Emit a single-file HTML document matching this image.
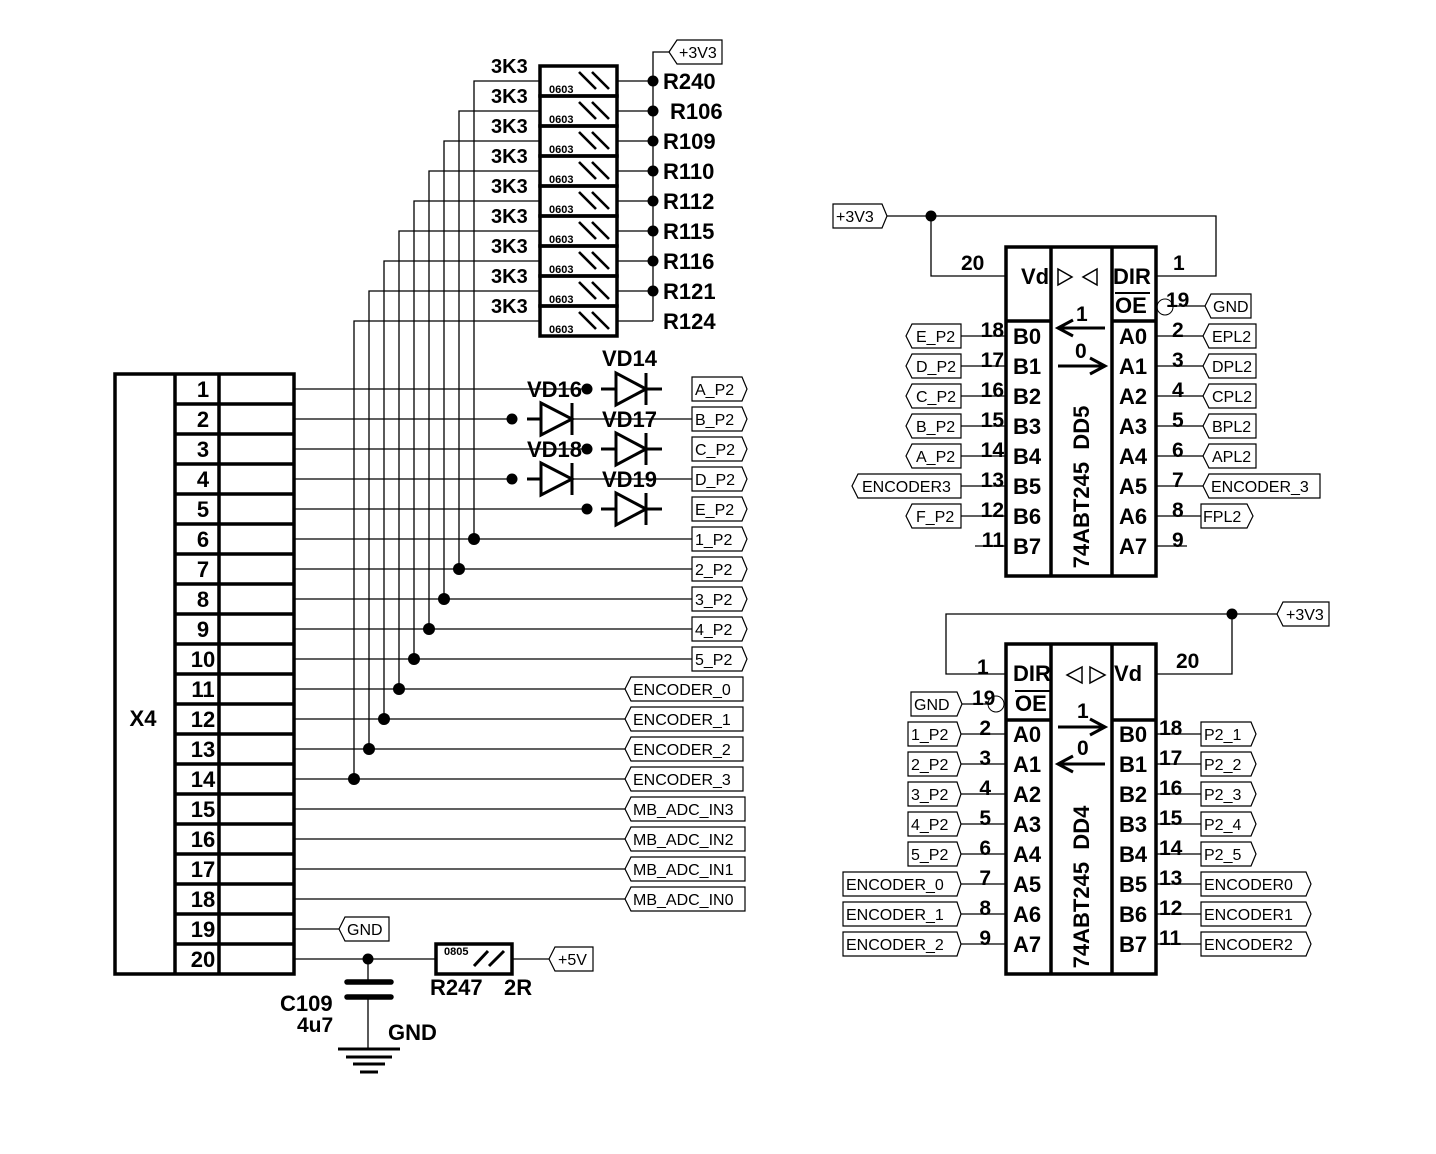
<!DOCTYPE html>
<html><head><meta charset="utf-8"><style>
html,body{margin:0;padding:0;background:#fff}
svg{display:block}
.w{stroke:#000;stroke-width:1.3;fill:none}
.t{stroke:#000;stroke-width:3.5;fill:none}
.d{stroke:#000;stroke-width:3;fill:none}
.g{stroke:#000;stroke-width:1.2;fill:#fff}
text{font-family:"Liberation Sans",Arial,sans-serif;fill:#000}
.b{font-weight:bold;font-size:22px}
.p{font-weight:bold;font-size:21px}
.n{font-size:16px}
.s{font-weight:bold;font-size:11px}
</style></head><body>
<svg width="1436" height="1154" viewBox="0 0 1436 1154" xmlns="http://www.w3.org/2000/svg">
<rect width="1436" height="1154" fill="#fff"/>

<!-- Resistor array -->
<g class="t">
<rect x="540" y="66" width="77" height="30"/><rect x="540" y="96" width="77" height="30"/><rect x="540" y="126" width="77" height="30"/>
<rect x="540" y="156" width="77" height="30"/><rect x="540" y="186" width="77" height="30"/><rect x="540" y="216" width="77" height="30"/>
<rect x="540" y="246" width="77" height="30"/><rect x="540" y="276" width="77" height="30"/><rect x="540" y="306" width="77" height="30"/>
</g>
<g stroke="#000" stroke-width="2.6">
<path d="M579 72L596 89M592 72L609 89"/><path d="M579 102L596 119M592 102L609 119"/><path d="M579 132L596 149M592 132L609 149"/>
<path d="M579 162L596 179M592 162L609 179"/><path d="M579 192L596 209M592 192L609 209"/><path d="M579 222L596 239M592 222L609 239"/>
<path d="M579 252L596 269M592 252L609 269"/><path d="M579 282L596 299M592 282L609 299"/><path d="M579 312L596 329M592 312L609 329"/>
</g>
<g class="s">
<text x="549" y="93">0603</text><text x="549" y="123">0603</text><text x="549" y="153">0603</text>
<text x="549" y="183">0603</text><text x="549" y="213">0603</text><text x="549" y="243">0603</text>
<text x="549" y="273">0603</text><text x="549" y="303">0603</text><text x="549" y="333">0603</text>
</g>
<g class="w">
<path d="M617 81H653M617 111H653M617 141H653M617 171H653M617 201H653M617 231H653M617 261H653M617 291H653M617 321H653"/>
<path d="M653 321V52H669"/>
<path d="M540 81H474V539M540 111H459V569M540 141H444V599M540 171H429V629M540 201H414V659M540 231H399V689M540 261H384V719M540 291H369V749M540 321H354V779"/>
</g>
<g fill="#000">
<circle cx="653" cy="81" r="5.5"/><circle cx="653" cy="111" r="5.5"/><circle cx="653" cy="141" r="5.5"/><circle cx="653" cy="171" r="5.5"/>
<circle cx="653" cy="201" r="5.5"/><circle cx="653" cy="231" r="5.5"/><circle cx="653" cy="261" r="5.5"/><circle cx="653" cy="291" r="5.5"/>
</g>
<polygon class="g" points="669,52 677,40 722,40 722,64 677,64"/>
<text class="n" x="679" y="58">+3V3</text>
<g class="b">
<text x="663" y="89">R240</text><text x="670" y="119">R106</text><text x="663" y="149">R109</text><text x="663" y="179">R110</text>
<text x="663" y="209">R112</text><text x="663" y="239">R115</text><text x="663" y="269">R116</text><text x="663" y="299">R121</text><text x="663" y="329">R124</text>
</g>
<g class="b" style="font-size:20px">
<text x="491" y="73">3K3</text><text x="491" y="103">3K3</text><text x="491" y="133">3K3</text><text x="491" y="163">3K3</text>
<text x="491" y="193">3K3</text><text x="491" y="223">3K3</text><text x="491" y="253">3K3</text><text x="491" y="283">3K3</text><text x="491" y="313">3K3</text>
</g>

<!-- X4 connector -->
<rect class="t" x="115" y="374" width="179" height="600"/>
<path class="t" d="M175 374V974M219 374V974"/>
<path class="t" d="M175 404H294M175 434H294M175 464H294M175 494H294M175 524H294M175 554H294M175 584H294M175 614H294M175 644H294M175 674H294M175 704H294M175 734H294M175 764H294M175 794H294M175 824H294M175 854H294M175 884H294M175 914H294M175 944H294"/>
<g class="b" text-anchor="middle">
<text x="203" y="397">1</text><text x="203" y="427">2</text><text x="203" y="457">3</text><text x="203" y="487">4</text><text x="203" y="517">5</text>
<text x="203" y="547">6</text><text x="203" y="577">7</text><text x="203" y="607">8</text><text x="203" y="637">9</text><text x="203" y="667">10</text>
<text x="203" y="697">11</text><text x="203" y="727">12</text><text x="203" y="757">13</text><text x="203" y="787">14</text><text x="203" y="817">15</text>
<text x="203" y="847">16</text><text x="203" y="877">17</text><text x="203" y="907">18</text><text x="203" y="937">19</text><text x="203" y="967">20</text>
<text x="143" y="726">X4</text>
</g>

<!-- X4 wires -->
<g class="w">
<path d="M294 389H587M294 419H512M294 449H587M294 479H512M294 509H587"/>
<path d="M294 539H692M294 569H692M294 599H692M294 629H692M294 659H692"/>
<path d="M294 689H625M294 719H625M294 749H625M294 779H625M294 809H625M294 839H625M294 869H625M294 899H625"/>
<path d="M294 929H339M294 959H436M512 959H549"/>
</g>
<g fill="#000">
<circle cx="474" cy="539" r="6"/><circle cx="459" cy="569" r="6"/><circle cx="444" cy="599" r="6"/><circle cx="429" cy="629" r="6"/>
<circle cx="414" cy="659" r="6"/><circle cx="399" cy="689" r="6"/><circle cx="384" cy="719" r="6"/><circle cx="369" cy="749" r="6"/><circle cx="354" cy="779" r="6"/>
<circle cx="587" cy="389" r="5.5"/><circle cx="512" cy="419" r="5.5"/><circle cx="587" cy="449" r="5.5"/><circle cx="512" cy="479" r="5.5"/><circle cx="587" cy="509" r="5.5"/>
<circle cx="368" cy="959" r="5.5"/>
</g>

<!-- Diodes -->
<g class="d">
<path d="M601 389H616M646 389H662M646 373V405"/><polygon points="616,373 616,405 646,389"/>
<path d="M601 449H616M646 449H662M646 433V465"/><polygon points="616,433 616,465 646,449"/>
<path d="M601 509H616M646 509H662M646 493V525"/><polygon points="616,493 616,525 646,509"/>
<path d="M527 419H541M572 403V435"/><polygon points="541,403 541,435 572,419"/>
<path d="M527 479H541M572 463V495"/><polygon points="541,463 541,495 572,479"/>
</g>
<path class="w" d="M572 419H692M572 479H692"/>
<g class="b">
<text x="602" y="366">VD14</text><text x="527" y="397">VD16</text><text x="602" y="427">VD17</text>
<text x="527" y="457">VD18</text><text x="602" y="487">VD19</text>
</g>

<!-- X4 tags -->
<g class="g">
<polygon points="692,377 742,377 747,389 742,401 692,401"/><polygon points="692,407 742,407 747,419 742,431 692,431"/>
<polygon points="692,437 742,437 747,449 742,461 692,461"/><polygon points="692,467 742,467 747,479 742,491 692,491"/>
<polygon points="692,497 742,497 747,509 742,521 692,521"/><polygon points="692,527 742,527 747,539 742,551 692,551"/>
<polygon points="692,557 742,557 747,569 742,581 692,581"/><polygon points="692,587 742,587 747,599 742,611 692,611"/>
<polygon points="692,617 742,617 747,629 742,641 692,641"/><polygon points="692,647 742,647 747,659 742,671 692,671"/>
<polygon points="625,689 631,677 743,677 743,701 631,701"/><polygon points="625,719 631,707 743,707 743,731 631,731"/>
<polygon points="625,749 631,737 743,737 743,761 631,761"/><polygon points="625,779 631,767 743,767 743,791 631,791"/>
<polygon points="625,809 631,797 745,797 745,821 631,821"/><polygon points="625,839 631,827 745,827 745,851 631,851"/>
<polygon points="625,869 631,857 745,857 745,881 631,881"/><polygon points="625,899 631,887 745,887 745,911 631,911"/>
<polygon points="339,929 345,917 389,917 389,941 345,941"/>
<polygon points="549,959 555,947 593,947 593,971 555,971"/>
</g>
<g class="n">
<text x="695" y="395">A_P2</text><text x="695" y="425">B_P2</text><text x="695" y="455">C_P2</text><text x="695" y="485">D_P2</text><text x="695" y="515">E_P2</text>
<text x="695" y="545">1_P2</text><text x="695" y="575">2_P2</text><text x="695" y="605">3_P2</text><text x="695" y="635">4_P2</text><text x="695" y="665">5_P2</text>
<text x="633" y="695">ENCODER_0</text><text x="633" y="725">ENCODER_1</text><text x="633" y="755">ENCODER_2</text><text x="633" y="785">ENCODER_3</text>
<text x="633" y="815">MB_ADC_IN3</text><text x="633" y="845">MB_ADC_IN2</text><text x="633" y="875">MB_ADC_IN1</text><text x="633" y="905">MB_ADC_IN0</text>
<text x="347" y="935">GND</text><text x="558" y="965">+5V</text>
</g>

<!-- R247, C109, GND -->
<rect class="t" x="436" y="944" width="76" height="30"/>
<text class="s" x="444" y="955">0805</text>
<path stroke="#000" stroke-width="3" d="M474 966L488 951M489 966L504 951"/>
<path class="w" d="M368 959V982M368 997V1049"/>
<path stroke="#000" stroke-width="5.5" stroke-linecap="round" d="M347 982H391M347 997H391"/>
<path stroke="#000" stroke-width="3" d="M338 1049H400M346 1057H392M353 1064H385M360 1072H378"/>
<g class="b">
<text x="280" y="1011">C109</text><text x="297" y="1032" style="font-size:21px">4u7</text><text x="388" y="1040">GND</text>
<text x="430" y="995">R247</text><text x="504" y="995">2R</text>
</g>

<!-- DD5 -->
<rect class="t" x="1006" y="247" width="150" height="329"/>
<path class="t" d="M1051 247V576M1112 247V576M1006 321H1051M1112 321H1156"/>
<g class="w">
<path d="M887 216H1216V276H1156M931 216V276H1006"/>
<path d="M1173 306H1205"/>
<path d="M961 336H1006M961 366H1006M961 396H1006M961 426H1006M961 456H1006M961 486H1006M961 516H1006M975 546H1006"/>
<path d="M1156 336H1203M1156 366H1203M1156 396H1203M1156 426H1203M1156 456H1203M1156 486H1203M1156 516H1201M1156 546H1187"/>
</g>
<circle cx="931" cy="216" r="5.5" fill="#000"/>
<circle cx="1165" cy="307" r="8" fill="none" stroke="#000" stroke-width="1"/>
<path stroke="#000" stroke-width="1.5" fill="none" d="M1058 269L1072 277L1058 285ZM1097 269L1083 277L1097 285Z"/>
<path stroke="#000" stroke-width="2" d="M1115 293H1150"/>
<path stroke="#000" stroke-width="3" fill="none" d="M1058 328H1105M1073 320L1058 328L1073 336M1058 366H1105M1090 358L1105 366L1090 374"/>
<g class="b">
<text x="1021" y="284">Vd</text><text x="1113" y="284">DIR</text><text x="1115" y="313">OE</text>
<text x="1013" y="344">B0</text><text x="1013" y="374">B1</text><text x="1013" y="404">B2</text><text x="1013" y="434">B3</text>
<text x="1013" y="464">B4</text><text x="1013" y="494">B5</text><text x="1013" y="524">B6</text><text x="1013" y="554">B7</text>
<text x="1119" y="344">A0</text><text x="1119" y="374">A1</text><text x="1119" y="404">A2</text><text x="1119" y="434">A3</text>
<text x="1119" y="464">A4</text><text x="1119" y="494">A5</text><text x="1119" y="524">A6</text><text x="1119" y="554">A7</text>
<text transform="translate(1089,487) rotate(-90)" text-anchor="middle" xml:space="preserve">74ABT245  DD5</text>
</g>
<g class="p">
<text x="961" y="270">20</text><text x="1173" y="270">1</text><text x="1166" y="307">19</text>
<text x="1076" y="321">1</text><text x="1075" y="358">0</text>
<text x="1172" y="337">2</text><text x="1172" y="367">3</text><text x="1172" y="397">4</text><text x="1172" y="427">5</text>
<text x="1172" y="457">6</text><text x="1172" y="487">7</text><text x="1172" y="517">8</text><text x="1172" y="547">9</text>
</g>
<g class="p" text-anchor="end">
<text x="1004" y="337">18</text><text x="1004" y="367">17</text><text x="1004" y="397">16</text><text x="1004" y="427">15</text>
<text x="1004" y="457">14</text><text x="1004" y="487">13</text><text x="1004" y="517">12</text><text x="1004" y="547">11</text>
</g>
<g class="g">
<polygon points="833,204 882,204 887,216 882,228 833,228"/>
<polygon points="1205,306 1211,294 1251,294 1251,318 1211,318"/>
<polygon points="906,336 912,324 961,324 961,348 912,348"/><polygon points="906,366 912,354 961,354 961,378 912,378"/>
<polygon points="906,396 912,384 961,384 961,408 912,408"/><polygon points="906,426 912,414 961,414 961,438 912,438"/>
<polygon points="906,456 912,444 961,444 961,468 912,468"/><polygon points="852,486 858,474 961,474 961,498 858,498"/>
<polygon points="906,516 912,504 961,504 961,528 912,528"/>
<polygon points="1203,336 1209,324 1256,324 1256,348 1209,348"/><polygon points="1203,366 1209,354 1256,354 1256,378 1209,378"/>
<polygon points="1203,396 1209,384 1256,384 1256,408 1209,408"/><polygon points="1203,426 1209,414 1256,414 1256,438 1209,438"/>
<polygon points="1203,456 1209,444 1256,444 1256,468 1209,468"/><polygon points="1203,486 1209,474 1320,474 1320,498 1209,498"/>
<polygon points="1201,504 1247,504 1253,516 1247,528 1201,528"/>
</g>
<g class="n">
<text x="836" y="222">+3V3</text><text x="1213" y="312">GND</text>
<text x="916" y="342">E_P2</text><text x="916" y="372">D_P2</text><text x="916" y="402">C_P2</text><text x="916" y="432">B_P2</text>
<text x="916" y="462">A_P2</text><text x="862" y="492">ENCODER3</text><text x="916" y="522">F_P2</text>
<text x="1212" y="342">EPL2</text><text x="1212" y="372">DPL2</text><text x="1212" y="402">CPL2</text><text x="1212" y="432">BPL2</text>
<text x="1212" y="462">APL2</text><text x="1211" y="492">ENCODER_3</text><text x="1203" y="522">FPL2</text>
</g>

<!-- DD4 -->
<rect class="t" x="1006" y="644" width="150" height="330"/>
<path class="t" d="M1051 644V974M1112 644V974M1006 720H1051M1112 720H1156"/>
<g class="w">
<path d="M1277 614H946V674H1006M1232 614V674H1156"/>
<path d="M962 704H988"/>
<path d="M961 734H1006M961 764H1006M961 794H1006M961 824H1006M961 854H1006M961 884H1006M961 914H1006M961 944H1006"/>
<path d="M1156 734H1201M1156 764H1201M1156 794H1201M1156 824H1201M1156 854H1201M1156 884H1201M1156 914H1201M1156 944H1201"/>
</g>
<circle cx="1232" cy="614" r="5.5" fill="#000"/>
<circle cx="996" cy="704" r="8" fill="none" stroke="#000" stroke-width="1"/>
<path stroke="#000" stroke-width="1.5" fill="none" d="M1082 667L1067 675L1082 683ZM1090 667L1105 675L1090 683Z"/>
<path stroke="#000" stroke-width="2" d="M1015 691H1050"/>
<path stroke="#000" stroke-width="3" fill="none" d="M1058 727H1105M1090 719L1105 727L1090 735M1058 764H1105M1073 756L1058 764L1073 772"/>
<g class="b">
<text x="1013" y="681">DIR</text><text x="1015" y="711">OE</text><text x="1114" y="681">Vd</text>
<text x="1013" y="742">A0</text><text x="1013" y="772">A1</text><text x="1013" y="802">A2</text><text x="1013" y="832">A3</text>
<text x="1013" y="862">A4</text><text x="1013" y="892">A5</text><text x="1013" y="922">A6</text><text x="1013" y="952">A7</text>
<text x="1119" y="742">B0</text><text x="1119" y="772">B1</text><text x="1119" y="802">B2</text><text x="1119" y="832">B3</text>
<text x="1119" y="862">B4</text><text x="1119" y="892">B5</text><text x="1119" y="922">B6</text><text x="1119" y="952">B7</text>
<text transform="translate(1089,887) rotate(-90)" text-anchor="middle" xml:space="preserve">74ABT245  DD4</text>
</g>
<g class="p">
<text x="977" y="674">1</text><text x="1176" y="668">20</text><text x="972" y="705">19</text>
<text x="1077" y="718">1</text><text x="1077" y="755">0</text>
<text x="1159" y="735">18</text><text x="1159" y="765">17</text><text x="1159" y="795">16</text><text x="1159" y="825">15</text>
<text x="1159" y="855">14</text><text x="1159" y="885">13</text><text x="1159" y="915">12</text><text x="1159" y="945">11</text>
</g>
<g class="p" text-anchor="end">
<text x="991" y="735">2</text><text x="991" y="765">3</text><text x="991" y="795">4</text><text x="991" y="825">5</text>
<text x="991" y="855">6</text><text x="991" y="885">7</text><text x="991" y="915">8</text><text x="991" y="945">9</text>
</g>
<g class="g">
<polygon points="1277,614 1283,602 1329,602 1329,626 1283,626"/>
<polygon points="911,692 957,692 962,704 957,716 911,716"/>
<polygon points="908,722 957,722 961,734 957,746 908,746"/><polygon points="908,752 957,752 961,764 957,776 908,776"/>
<polygon points="908,782 957,782 961,794 957,806 908,806"/><polygon points="908,812 957,812 961,824 957,836 908,836"/>
<polygon points="908,842 957,842 961,854 957,866 908,866"/><polygon points="843,872 957,872 961,884 957,896 843,896"/>
<polygon points="843,902 957,902 961,914 957,926 843,926"/><polygon points="843,932 957,932 961,944 957,956 843,956"/>
<polygon points="1201,722 1251,722 1256,734 1251,746 1201,746"/><polygon points="1201,752 1251,752 1256,764 1251,776 1201,776"/>
<polygon points="1201,782 1251,782 1256,794 1251,806 1201,806"/><polygon points="1201,812 1251,812 1256,824 1251,836 1201,836"/>
<polygon points="1201,842 1251,842 1256,854 1251,866 1201,866"/><polygon points="1201,872 1306,872 1311,884 1306,896 1201,896"/>
<polygon points="1201,902 1306,902 1311,914 1306,926 1201,926"/><polygon points="1201,932 1306,932 1311,944 1306,956 1201,956"/>
</g>
<g class="n">
<text x="1286" y="620">+3V3</text><text x="914" y="710">GND</text>
<text x="911" y="740">1_P2</text><text x="911" y="770">2_P2</text><text x="911" y="800">3_P2</text><text x="911" y="830">4_P2</text><text x="911" y="860">5_P2</text>
<text x="846" y="890">ENCODER_0</text><text x="846" y="920">ENCODER_1</text><text x="846" y="950">ENCODER_2</text>
<text x="1204" y="740">P2_1</text><text x="1204" y="770">P2_2</text><text x="1204" y="800">P2_3</text><text x="1204" y="830">P2_4</text><text x="1204" y="860">P2_5</text>
<text x="1204" y="890">ENCODER0</text><text x="1204" y="920">ENCODER1</text><text x="1204" y="950">ENCODER2</text>
</g>
</svg>
</body></html>
